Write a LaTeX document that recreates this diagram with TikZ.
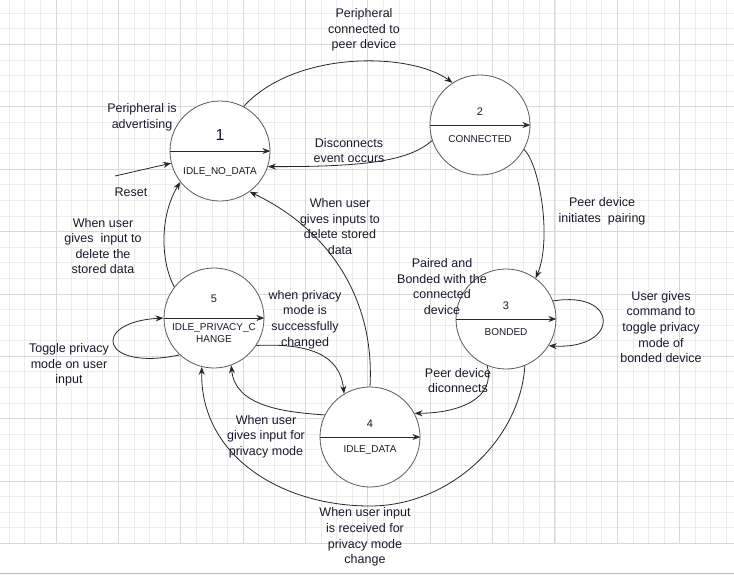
\documentclass[tikz,border=0pt]{standalone}
\usepackage{fontspec}
\setmainfont{Liberation Sans}
\usetikzlibrary{arrows.meta}
\definecolor{txt}{RGB}{25,25,45}
\definecolor{gmin}{RGB}{236,236,236}
\definecolor{gmaj}{RGB}{216,216,216}
\definecolor{edgec}{RGB}{40,40,40}
\definecolor{ring}{RGB}{90,90,90}
\begin{document}
\begin{tikzpicture}[x=1pt,y=-1pt,
 state/.style={circle,draw=ring,fill=white,line width=0.8pt,minimum size=100pt,inner sep=0pt},
 lbl/.style={align=center,text=txt,font=\fontsize{12.5}{15.6}\selectfont,inner sep=0pt},
 sname/.style={align=center,text=txt,font=\fontsize{10}{12.6}\selectfont,inner sep=0pt},
 snum/.style={text=txt,font=\fontsize{11}{12}\selectfont,inner sep=0pt},
 conn/.style={draw=edgec,line width=0.8pt,-{Stealth[length=8pt,width=6pt]}},
]
\useasboundingbox (0,0) rectangle (734,574);
\fill[white] (0,0) rectangle (734,574);
% grid
\foreach \i in {0,...,46} { \draw[gmin,line width=0.8pt] ({9.3+15.59*\i},0) -- ({9.3+15.59*\i},543.3); }
\foreach \i in {0,...,33} { \draw[gmin,line width=0.8pt] (0,{13.3+15.59*\i}) -- (734,{13.3+15.59*\i}); }
\foreach \i in {0,...,11} { \draw[gmaj,line width=0.8pt] ({56.07+62.35*\i},0) -- ({56.07+62.35*\i},543.3); }
\foreach \i in {0,...,8} { \draw[gmaj,line width=0.8pt] (0,{44.5+62.35*\i}) -- (734,{44.5+62.35*\i}); }
\draw[gray!55,line width=1.5pt] (0,573.3) -- (734,573.3);

% states
\node[state] (s1) at (220,151) {};
\node[state] (s2) at (480,125) {};
\node[state] (s3) at (506,319) {};
\node[state] (s4) at (370,437) {};
\node[state] (s5) at (214,318) {};

\node[text=txt,font=\fontsize{16}{18}\selectfont,inner sep=0pt] (n1) at (220,135) {1};
\node[sname] (t1) at (220,172) {IDLE\_NO\_DATA};
\node[snum] (n2) at (480,112) {2};
\node[sname] (t2) at (480,139) {CONNECTED};
\node[snum] (n3) at (506,306) {3};
\node[sname] (t3) at (506,332) {BONDED};
\node[snum] (n4) at (370,424) {4};
\node[sname] (t4) at (370,450) {IDLE\_DATA};
\node[snum] (n5) at (214,299) {5};
\node[sname] (t5) at (214,333) {IDLE\_PRIVACY\_C\\HANGE};

\foreach \s in {s1,s2,s3,s4,s5} { \draw[conn] (\s.west) -- (\s.east); }

% transitions
\coordinate (rs) at (115,176);
\draw[conn] (rs) -- (s1.194);
\draw[conn] (s1.62) .. controls (295,50) and (410,52) .. (s2.123);
\draw[conn] (s2.198) .. controls (410,160) and (370,167) .. (s1.342);
\draw[conn] (s2.-29) .. controls (540,165) and (552,240) .. (s3.54);
\draw[conn] (s3.21) .. controls (620,290) and (620,350) .. (s3.-32);
\draw[conn] (s3.248) .. controls (496,398) and (460,413) .. (s4.28);
\draw[conn] (s4.90) .. controls (375,300) and (330,230) .. (s1.-54);
\draw[conn] (s5.142) .. controls (160,260) and (160,215) .. (s1.218);
\draw[conn] (s5.227) .. controls (100,372) and (90,322) .. (s5.west);
\draw[conn] (s5.-33) .. controls (310,343) and (340,355) .. (s4.121);
\draw[conn] (s4.154) .. controls (280,412) and (235,405) .. (s5.-70);
\draw[conn] (s3.-68) .. controls (520,440) and (450,506) .. (370,506) .. controls (280,506) and (200,455) .. (s5.256);

% labels
\node[lbl] (ladv) at (142,117) {Peripheral is\\advertising};
\node[lbl] (lrst) at (131,192) {Reset};
\node[lbl] (l12) at (364,30) {Peripheral\\connected to\\peer device};
\node[lbl] (l21) at (349,150.5) {Disconnects\\event occurs};
\node[lbl] (l41) at (340,226.5) {When user\\gives inputs to\\delete stored\\data};
\node[lbl] (l23) at (602,211) {Peer device\\initiates\ \ pairing};
\node[lbl] (l33) at (661,327) {User gives\\command to\\toggle privacy\\mode of\\bonded device};
\node[lbl] (lpr) at (442,286.7) {Paired and\\Bonded with the\\connected\\device};
\node[lbl] (l34) at (458,380.7) {Peer device\\diconnects};
\node[lbl] (l51) at (103,246) {When user\\gives\ \ input to\\delete the\\stored data};
\node[lbl] (l55) at (69,365) {Toggle privacy\\mode on user\\input};
\node[lbl] (l54) at (305,319.5) {when privacy\\mode is\\successfully\\changed};
\node[lbl] (l45) at (266,436.5) {When user\\gives input for\\privacy mode};
\node[lbl] (l35) at (365,537) {When user input\\is received for\\privacy mode\\change};
\end{tikzpicture}
\end{document}
